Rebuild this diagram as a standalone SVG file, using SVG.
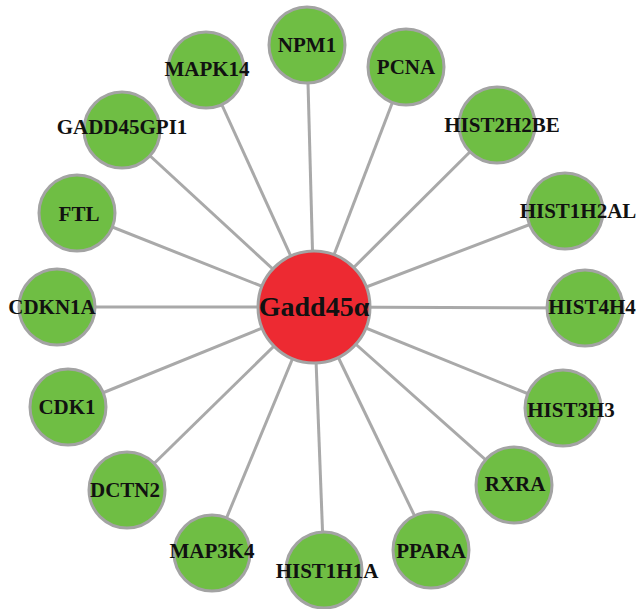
<svg xmlns="http://www.w3.org/2000/svg" width="638" height="609" viewBox="0 0 638 609">
<style>
.e{stroke:#a9a9a9;stroke-width:3;fill:none}
.g{fill:#6fbe44;stroke:#a3a3a3;stroke-width:3}
.r{fill:#ed2a32;stroke:#a3a3a3;stroke-width:3}
text{font-family:"Liberation Serif","Times New Roman",serif;font-weight:bold;fill:#111;text-anchor:middle}
.t{font-size:21px}
.c{font-size:28px}
</style>
<rect width="638" height="609" fill="#fff"/>
<g id="edges">
<line class="e" x1="314" y1="307" x2="307" y2="45"/>
<line class="e" x1="314" y1="307" x2="406" y2="67"/>
<line class="e" x1="314" y1="307" x2="206" y2="70"/>
<line class="e" x1="314" y1="307" x2="497" y2="125"/>
<line class="e" x1="314" y1="307" x2="122" y2="130"/>
<line class="e" x1="314" y1="307" x2="565" y2="211"/>
<line class="e" x1="314" y1="307" x2="77" y2="213"/>
<line class="e" x1="314" y1="307" x2="585" y2="308"/>
<line class="e" x1="314" y1="307" x2="57" y2="307"/>
<line class="e" x1="314" y1="307" x2="563" y2="408"/>
<line class="e" x1="314" y1="307" x2="68" y2="407"/>
<line class="e" x1="314" y1="307" x2="514" y2="485"/>
<line class="e" x1="314" y1="307" x2="127" y2="490"/>
<line class="e" x1="314" y1="307" x2="431" y2="550"/>
<line class="e" x1="314" y1="307" x2="212" y2="553"/>
<line class="e" x1="314" y1="307" x2="324" y2="570"/>
</g>
<g id="NPM1"><circle class="g" cx="307" cy="45" r="38"/><text class="t" x="307" y="52">NPM1</text></g>
<g id="PCNA"><circle class="g" cx="406" cy="67" r="38"/><text class="t" x="406" y="74">PCNA</text></g>
<g id="MAPK14"><circle class="g" cx="206" cy="70" r="38"/><text class="t" x="207" y="76">MAPK14</text></g>
<g id="HIST2H2BE"><circle class="g" cx="497" cy="125" r="38"/><text class="t" x="502" y="132">HIST2H2BE</text></g>
<g id="GADD45GPI1"><circle class="g" cx="122" cy="130" r="38"/><text class="t" x="122" y="134">GADD45GPI1</text></g>
<g id="HIST1H2AL"><circle class="g" cx="565" cy="211" r="38"/><text class="t" x="578" y="218">HIST1H2AL</text></g>
<g id="FTL"><circle class="g" cx="77" cy="213" r="38"/><text class="t" x="79" y="221">FTL</text></g>
<g id="HIST4H4"><circle class="g" cx="585" cy="308" r="38"/><text class="t" x="592" y="314">HIST4H4</text></g>
<g id="CDKN1A"><circle class="g" cx="57" cy="307" r="38"/><text class="t" x="52" y="314">CDKN1A</text></g>
<g id="HIST3H3"><circle class="g" cx="563" cy="408" r="38"/><text class="t" x="571" y="417">HIST3H3</text></g>
<g id="CDK1"><circle class="g" cx="68" cy="407" r="38"/><text class="t" x="67" y="414">CDK1</text></g>
<g id="RXRA"><circle class="g" cx="514" cy="485" r="38"/><text class="t" x="515" y="491">RXRA</text></g>
<g id="DCTN2"><circle class="g" cx="127" cy="490" r="38"/><text class="t" x="125" y="497">DCTN2</text></g>
<g id="PPARA"><circle class="g" cx="431" cy="550" r="38"/><text class="t" x="431" y="558">PPARA</text></g>
<g id="MAP3K4"><circle class="g" cx="212" cy="553" r="38"/><text class="t" x="212" y="558">MAP3K4</text></g>
<g id="HIST1H1A"><circle class="g" cx="324" cy="570" r="38"/><text class="t" x="327" y="578">HIST1H1A</text></g>
<g id="Gadd45a"><circle class="r" cx="314" cy="307" r="56"/><text class="c" x="314" y="316">Gadd45α</text></g>
</svg>
